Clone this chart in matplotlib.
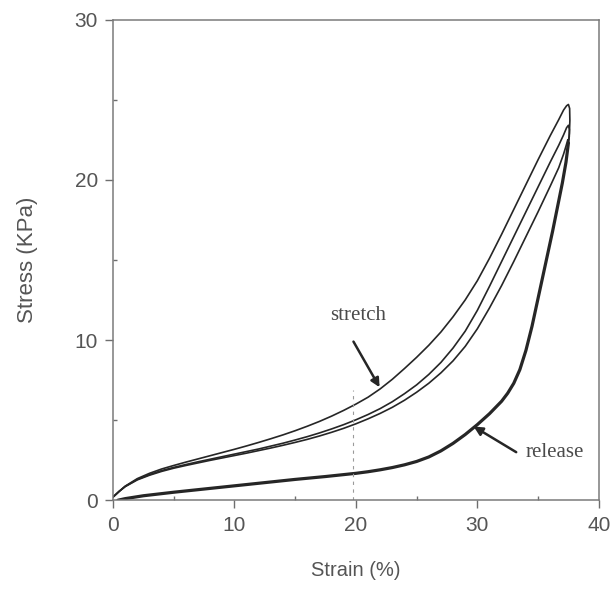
import matplotlib
matplotlib.use('Agg')
import matplotlib.pyplot as plt
from matplotlib.ticker import MultipleLocator

# stretch branches of the three loading cycles (strain %, stress KPa)
stretch1_x = [0, 0.5, 1, 2, 3, 4, 5, 6, 7, 8, 9, 10, 11, 12, 13, 14, 15, 16, 17, 18, 19, 20,
              21, 22, 23, 24, 25, 26, 27, 28, 29, 30, 31, 32, 33, 34, 35, 36, 36.7, 37.1, 37.35, 37.5]
stretch1_y = [0.2, 0.55, 0.88, 1.35, 1.68, 1.95, 2.17, 2.38, 2.58, 2.78, 2.98, 3.18, 3.39, 3.61,
              3.84, 4.08, 4.34, 4.62, 4.92, 5.25, 5.61, 6.0, 6.43, 6.95, 7.55, 8.22, 8.92, 9.67,
              10.5, 11.45, 12.5, 13.7, 15.1, 16.6, 18.15, 19.7, 21.25, 22.75, 23.75, 24.35, 24.62, 24.7]

stretch2_x = [0, 0.5, 1, 2, 3, 4, 5, 6, 7, 8, 9, 10, 11, 12, 13, 14, 15, 16, 17, 18, 19, 20,
              21, 22, 23, 24, 25, 26, 27, 28, 29, 30, 31, 32, 33, 34, 35, 36, 36.7, 37.1, 37.35, 37.5]
stretch2_y = [0.2, 0.55, 0.86, 1.3, 1.6, 1.85, 2.05, 2.23, 2.4, 2.56, 2.72, 2.88, 3.04, 3.2,
              3.38, 3.56, 3.76, 3.97, 4.2, 4.45, 4.72, 5.02, 5.35, 5.72, 6.15, 6.65, 7.2, 7.85,
              8.6, 9.5, 10.55, 11.85, 13.35, 14.9, 16.45, 18.0, 19.55, 21.1, 22.15, 22.8, 23.25, 23.4]

stretch3_x = [0, 0.5, 1, 2, 3, 4, 5, 6, 7, 8, 9, 10, 11, 12, 13, 14, 15, 16, 17, 18, 19, 20,
              21, 22, 23, 24, 25, 26, 27, 28, 29, 30, 31, 32, 33, 34, 35, 36, 36.7, 37.1, 37.3, 37.45]
stretch3_y = [0.2, 0.55, 0.85, 1.27, 1.56, 1.8, 2.0, 2.17, 2.33, 2.49, 2.64, 2.79, 2.94, 3.1,
              3.26, 3.43, 3.61, 3.8, 4.01, 4.24, 4.49, 4.77, 5.08, 5.42, 5.8, 6.24, 6.74, 7.3,
              7.95, 8.7, 9.6, 10.7, 12.0, 13.4, 14.9, 16.45, 18.0, 19.6, 20.75, 21.6, 22.1, 22.5]

# short turn-over from each peak before the unloading curves merge
turn1_x = [37.6, 37.62, 37.58, 37.5]
turn1_y = [24.45, 23.7, 22.9, 22.3]
turn2_x = [37.58, 37.57, 37.5]
turn2_y = [23.15, 22.7, 22.3]
turn3_x = [37.5]
turn3_y = [22.3]

# release branch, shared by the three cycles (they lie on top of each other)
release_x = [37.5, 37.3, 37.0, 36.6, 36.2, 35.8, 35.4, 35.0, 34.5, 34.0, 33.5, 33.0, 32.5, 32.0,
             31.0, 30.0, 29.0, 28.0, 27.0, 26.0, 25.0, 24.0, 23.0, 22.0, 21.0, 20.0, 17.5, 15.0,
             12.5, 10.0, 7.5, 5.0, 2.5, 1.0, 0.4]
release_y = [22.3, 21.1, 19.8, 18.3, 16.8, 15.4, 14.0, 12.6, 10.85, 9.35, 8.15, 7.3, 6.68, 6.18,
             5.4, 4.72, 4.1, 3.55, 3.08, 2.7, 2.42, 2.21, 2.04, 1.9, 1.78, 1.68, 1.48, 1.3,
             1.1, 0.9, 0.7, 0.5, 0.28, 0.1, 0.0]

x_ticks = [0, 10, 20, 30, 40]
y_ticks = [0, 10, 20, 30]

grey = '#6e6e6e'
label_grey = '#555555'
ink = '#262626'

plt.rcParams['font.family'] = ['Liberation Sans', 'DejaVu Sans']

fig = plt.figure(figsize=(6.11, 5.92), dpi=100)
ax = fig.add_axes([0.185, 0.155, 0.795, 0.812])

cycles = [(stretch1_x, stretch1_y, turn1_x, turn1_y),
          (stretch2_x, stretch2_y, turn2_x, turn2_y),
          (stretch3_x, stretch3_y, turn3_x, turn3_y)]
for sx, sy, tx, ty in cycles:
    ax.plot(sx + tx, sy + ty, color=ink, lw=1.2, solid_joinstyle='round')
ax.plot(release_x, release_y, color=ink, lw=2.3, solid_joinstyle='round', solid_capstyle='round')

# faint dashed marker at 20 %
ax.plot([19.8, 19.8], [0, 6.9], color='#9a9a9a', lw=0.8, ls=(0, (3, 4)))

serif = ['Liberation Serif', 'DejaVu Serif']
ax.text(20.2, 11.55, 'stretch', ha='center', va='center', fontsize=15, color='#4a4a4a', family=serif)
ax.annotate('', xy=(21.95, 7.05), xytext=(19.8, 9.9),
            arrowprops=dict(arrowstyle='-|>', color=ink, lw=1.8, shrinkA=0, shrinkB=0,
                            mutation_scale=13))
ax.text(36.4, 3.0, 'release', ha='center', va='center', fontsize=15, color='#4a4a4a', family=serif)
ax.annotate('', xy=(29.7, 4.6), xytext=(33.2, 3.0),
            arrowprops=dict(arrowstyle='-|>', color=ink, lw=1.8, shrinkA=0, shrinkB=0,
                            mutation_scale=13))

ax.set_xlim(0, 40)
ax.set_ylim(0, 30)
ax.set_xticks(x_ticks)
ax.set_yticks(y_ticks)
ax.xaxis.set_minor_locator(MultipleLocator(5))
ax.yaxis.set_minor_locator(MultipleLocator(5))
ax.tick_params(which='major', direction='out', length=6, width=1, color=grey,
               labelsize=15, labelcolor=label_grey, pad=5)
ax.tick_params(which='minor', direction='in', length=3, width=1, color=grey)
for s in ax.spines.values():
    s.set_color('#7a7a7a')
    s.set_linewidth(1.1)

ax.set_xlabel('Strain (%)', fontsize=14.5, color=label_grey, labelpad=19)
ax.set_ylabel('Stress (KPa)', fontsize=16, color=label_grey, labelpad=26)

fig.savefig('out.png', dpi=100)
